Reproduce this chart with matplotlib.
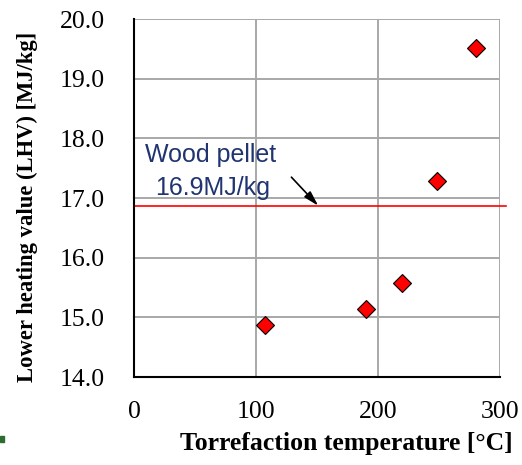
import matplotlib.pyplot as plt
from matplotlib.patches import Rectangle

temp = [107, 190, 220, 248, 280]
lhv = [14.87, 15.14, 15.58, 17.28, 19.52]
pellet_lhv = 16.87
x_ticks = [0, 100, 200, 300]
y_ticks = [14.0, 15.0, 16.0, 17.0, 18.0, 19.0, 20.0]

fig = plt.figure(figsize=(5.22, 4.65), dpi=100)
ax = fig.add_axes([0.2567, 0.1892, 0.7013, 0.7698])

ax.set_xlim(0, 300)
ax.set_ylim(14, 20)
ax.set_xticks(x_ticks)
ax.set_yticks(y_ticks)
ax.set_yticklabels([f"{v:.1f}" for v in y_ticks])
ax.grid(True, color='#a8a8a8', linewidth=1.4)
ax.set_axisbelow(True)
ax.tick_params(axis='y', length=0, pad=21, labelsize=18.5)
ax.tick_params(axis='x', length=0, pad=17, labelsize=18.5)
for lab in ax.get_xticklabels() + ax.get_yticklabels():
    lab.set_family('Liberation Serif')

for s in ['top', 'right']:
    ax.spines[s].set_visible(False)
for s in ['left', 'bottom']:
    ax.spines[s].set_color('black')
    ax.spines[s].set_linewidth(1.5)

# wood pellet reference line, runs a bit past the right edge
ax.plot([0, 305], [pellet_lhv, pellet_lhv], color='red', linewidth=1.2, clip_on=False)

ax.plot(temp, lhv, linestyle='none', marker='D', markersize=9.5,
        markerfacecolor='red', markeredgecolor='black', markeredgewidth=0.8, clip_on=False)

ax.text(9, 17.72, "Wood pellet", family='Liberation Sans', fontsize=18, color='#1f3470',
        va='center', ha='left')
ax.text(17, 17.17, "16.9MJ/kg", family='Liberation Sans', fontsize=18, color='#1f3470',
        va='center', ha='left')
ax.annotate("", xy=(151, pellet_lhv), xytext=(129, 17.35),
            arrowprops=dict(arrowstyle='-|>,head_length=0.9,head_width=0.25', color='black',
                            lw=1.2, mutation_scale=10, shrinkA=0, shrinkB=0))

ax.set_xlabel("Torrefaction temperature [\u00b0C]", family='Liberation Serif', fontweight='bold',
              fontsize=18.5)
ax.xaxis.set_label_coords(0.581, -0.154)
ax.set_ylabel("Lower heating value (LHV) [MJ/kg]", family='Liberation Serif', fontweight='bold',
              fontsize=16.3)
ax.yaxis.set_label_coords(-0.262, 0.475)

fig.patches.append(Rectangle((0, 0.050), 0.008, 0.013, transform=fig.transFigure,
                             color='#2e6b2e', zorder=5))

fig.savefig('out.png', dpi=100)
